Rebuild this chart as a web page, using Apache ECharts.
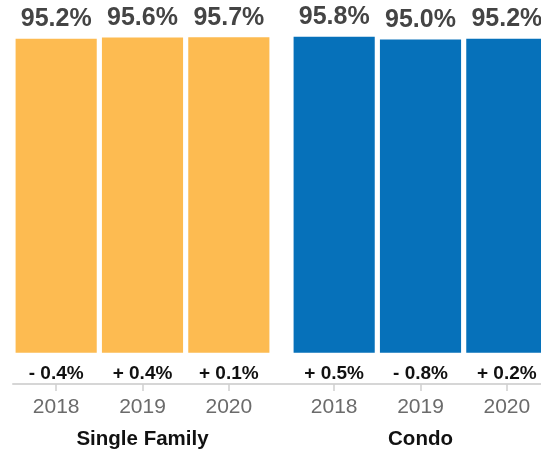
<!DOCTYPE html>
<html>
<head>
<meta charset="utf-8">
<script src="https://cdn.jsdelivr.net/npm/echarts@6/dist/echarts.min.js"></script>
<style>
html,body{margin:0;padding:0;background:#fff;}
#c{width:541px;height:451px;}
</style>
</head>
<body>
<div id="c"></div>
<script>
const years = ['2018', '2019', '2020'];
const groupNames = ['Single Family', 'Condo'];
const singleFamilyValues = [95.2, 95.6, 95.7];
const condoValues = [95.8, 95.0, 95.2];
const singleFamilyChange = [-0.4, 0.4, 0.1];
const condoChange = [0.5, -0.8, 0.2];

const FONT = '"Liberation Sans", Arial, Helvetica, sans-serif';
const colors = ['#FDBB51', '#0671BA'];
const valuesByGroup = [singleFamilyValues, condoValues];
const changeByGroup = [singleFamilyChange, condoChange];

function fmtChange(v) {
  return (v < 0 ? '- ' : '+ ') + Math.abs(v).toFixed(1) + '%';
}

const grids = [
  { left: 13, width: 259, top: 23, bottom: 67, outerBoundsMode: 'none', containLabel: false },
  { left: 291, width: 259, top: 23, bottom: 67, outerBoundsMode: 'none', containLabel: false },
  { left: 13, right: 0, top: 23, bottom: 67, outerBoundsMode: 'none', containLabel: false }
];

const xAxes = [];
const yAxes = [];
const series = [];

for (let g = 0; g < 2; g++) {
  xAxes.push({
    type: 'category', gridIndex: g, data: years, position: 'bottom',
    axisLine: { show: false, onZero: false },
    axisTick: { show: true, alignWithLabel: true, length: 7, lineStyle: { color: '#d0d0d0', width: 1.5 } },
    axisLabel: { margin: 13, fontSize: 21, color: '#6b6b6b', fontFamily: FONT },
    name: groupNames[g], nameLocation: 'middle', nameGap: 45,
    nameTextStyle: { fontSize: 20.5, fontWeight: 'bold', color: '#111', fontFamily: FONT }
  });
  const chg = changeByGroup[g];
  xAxes.push({
    type: 'category', gridIndex: g, data: years, position: 'bottom',
    axisLine: { show: false, onZero: false },
    axisTick: { show: false },
    axisLabel: {
      inside: true, margin: 1, fontSize: 19, fontWeight: 'bold', color: '#111', fontFamily: FONT,
      formatter: function (val, idx) { return fmtChange(chg[idx]); }
    }
  });
  yAxes.push({ type: 'value', gridIndex: g, min: -9.5, max: 100, show: false });
  series.push({
    type: 'bar', xAxisIndex: g * 2, yAxisIndex: g,
    data: valuesByGroup[g],
    barCategoryGap: '6%',
    itemStyle: { color: colors[g] },
    label: {
      show: true, position: 'top', distance: 7,
      fontSize: 25, fontWeight: 'bold', color: '#444', fontFamily: FONT,
      formatter: function (p) { return p.value.toFixed(1) + '%'; }
    },
    silent: true
  });
}
// continuous baseline axis spanning both groups
xAxes.push({
  type: 'category', gridIndex: 2, data: [''], position: 'bottom',
  axisLine: { show: true, onZero: false, lineStyle: { color: '#d6d6d6', width: 2 } },
  axisTick: { show: false }, axisLabel: { show: false }
});
yAxes.push({ type: 'value', gridIndex: 2, min: -9.5, max: 100, show: false });

const chart = echarts.init(document.getElementById('c'), null, { renderer: 'canvas' });
chart.setOption({
  animation: false,
  backgroundColor: '#fff',
  grid: grids,
  xAxis: xAxes,
  yAxis: yAxes,
  series: series
});
</script>
</body>
</html>
